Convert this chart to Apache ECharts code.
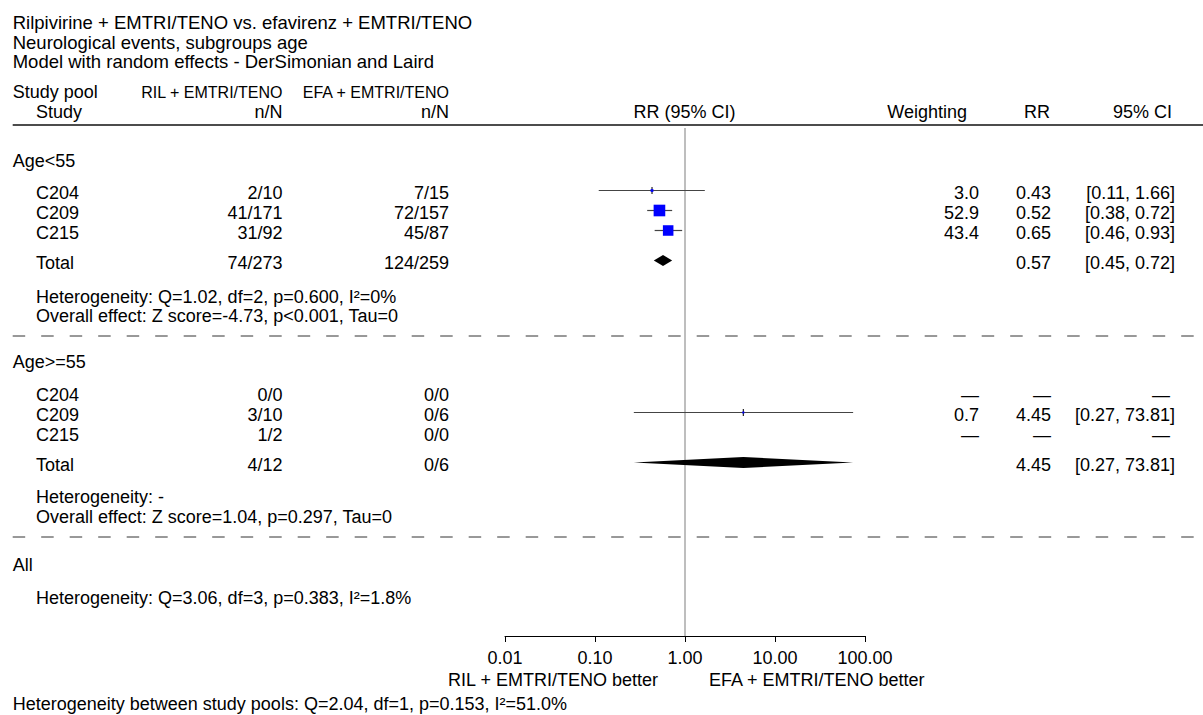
<!DOCTYPE html>
<html>
<head>
<meta charset="utf-8">
<script src="https://cdn.jsdelivr.net/npm/echarts@6/dist/echarts.min.js"></script>
<style>
html,body{margin:0;padding:0;background:#fff;}
#chart{width:1203px;height:715px;}
</style>
</head>
<body>
<div id="chart"></div>
<script>
// ---------------- DATA ----------------
const titleLines = [
  'Rilpivirine + EMTRI/TENO vs. efavirenz + EMTRI/TENO',
  'Neurological events, subgroups age',
  'Model with random effects - DerSimonian and Laird'
];
const headerCols = ['Study pool', 'Study', 'RIL + EMTRI/TENO', 'EFA + EMTRI/TENO', 'n/N', 'RR (95% CI)', 'Weighting', 'RR', '95% CI'];
const subgroupNames = ['Age<55', 'Age>=55'];
const studyNames = ['C204', 'C209', 'C215'];

const rilLt55 = ['2/10', '41/171', '31/92'];
const efaLt55 = ['7/15', '72/157', '45/87'];
const weightLt55 = [3.0, 52.9, 43.4];
const rrLt55 = [0.43, 0.52, 0.65];
const ciLowLt55 = [0.11, 0.38, 0.46];
const ciHighLt55 = [1.66, 0.72, 0.93];
const totalLt55 = ['74/273', '124/259'];
const pooledLt55 = [0.57, 0.45, 0.72];
const hetLt55 = ['Heterogeneity: Q=1.02, df=2, p=0.600, I\u00b2=0%', 'Overall effect: Z score=-4.73, p<0.001, Tau=0'];

const rilGe55 = ['0/0', '3/10', '1/2'];
const efaGe55 = ['0/0', '0/6', '0/0'];
const weightGe55 = [null, 0.7, null];
const rrGe55 = [null, 4.45, null];
const ciLowGe55 = [null, 0.27, null];
const ciHighGe55 = [null, 73.81, null];
const totalGe55 = ['4/12', '0/6'];
const pooledGe55 = [4.45, 0.27, 73.81];
const hetGe55 = ['Heterogeneity: -', 'Overall effect: Z score=1.04, p=0.297, Tau=0'];

const allLabel = 'All';
const hetAll = 'Heterogeneity: Q=3.06, df=3, p=0.383, I\u00b2=1.8%';
const footnote = 'Heterogeneity between study pools: Q=2.04, df=1, p=0.153, I\u00b2=51.0%';
const betterLabels = ['RIL + EMTRI/TENO better', 'EFA + EMTRI/TENO better'];
const tickValues = [0.01, 0.1, 1, 10, 100];
const refValue = 1;

// ---------------- LAYOUT ----------------
const FONT = '"Liberation Sans", Arial, sans-serif';
const F18 = '18px ' + FONT;
const FTITLE = '18.5px ' + FONT;
const F16 = '16px ' + FONT;
const L = {
  titleY: [22, 42, 61], head1: 92, head2: 112, rule: 125,
  groups: [
    { label: 161, studies: [193, 213, 233], total: 263, het: [297, 316], dash: 336 },
    { label: 362, studies: [395, 415, 435], total: 465, het: [497, 517], dash: 537 }
  ],
  all: 565, hetAll: 598, better: 680, foot: 704,
  xGroup: 12.7, xStudy: 36, xRil: 282.5, xEfa: 449,
  xWeight: 979, xRR: 1051, xCI: 1175, xCIDash: 1170,
  axisY: 636, refTop: 128, markerShift: -2.5
};

// ---------------- BUILD ----------------
const g = [];
function txt(s, x, y, align, font) {
  g.push({ type: 'text', x: x, y: y, silent: true,
    style: { text: s, font: font || F18, fill: '#000', align: align || 'left', textAlign: align || 'left',
             verticalAlign: 'middle', textVerticalAlign: 'middle' } });
}
function hline(y, x1, x2, dash, color, w) {
  g.push({ type: 'line', silent: true, shape: { x1: x1, y1: y, x2: x2, y2: y },
    style: { stroke: color, lineWidth: w, lineDash: dash || null } });
}

titleLines.forEach((t, i) => txt(t, L.xGroup, L.titleY[i], 'left', FTITLE));
txt(headerCols[0], L.xGroup, L.head1);
txt(headerCols[1], L.xStudy, L.head2);
txt(headerCols[2], L.xRil, L.head1, 'right', F16);
txt(headerCols[3], L.xEfa, L.head1, 'right', F16);
txt(headerCols[4], L.xRil, L.head2, 'right');
txt(headerCols[4], L.xEfa, L.head2, 'right');
txt(headerCols[5], 684.5, L.head2, 'center');
txt(headerCols[6], 967, L.head2, 'right');
txt(headerCols[7], 1050, L.head2, 'right');
txt(headerCols[8], 1172, L.head2, 'right');
hline(L.rule, L.xGroup, 1203, null, '#111', 1.5);

const groupsData = [
  { ril: rilLt55, efa: efaLt55, w: weightLt55, rr: rrLt55, lo: ciLowLt55, hi: ciHighLt55, tot: totalLt55, pooled: pooledLt55, het: hetLt55 },
  { ril: rilGe55, efa: efaGe55, w: weightGe55, rr: rrGe55, lo: ciLowGe55, hi: ciHighGe55, tot: totalGe55, pooled: pooledGe55, het: hetGe55 }
];
const markData = [];
const ciStr = (a, b) => '[' + a.toFixed(2) + ', ' + b.toFixed(2) + ']';

groupsData.forEach((d, gi) => {
  const lay = L.groups[gi];
  txt(subgroupNames[gi], L.xGroup, lay.label);
  studyNames.forEach((s, i) => {
    const y = lay.studies[i];
    txt(s, L.xStudy, y);
    txt(d.ril[i], L.xRil, y, 'right');
    txt(d.efa[i], L.xEfa, y, 'right');
    if (d.rr[i] == null) {
      txt('\u2014', L.xWeight, y, 'right');
      txt('\u2014', L.xRR, y, 'right');
      txt('\u2014', L.xCIDash, y, 'right');
    } else {
      txt(d.w[i].toFixed(1), L.xWeight, y, 'right');
      txt(d.rr[i].toFixed(2), L.xRR, y, 'right');
      txt(ciStr(d.lo[i], d.hi[i]), L.xCI, y, 'right');
      markData.push([d.rr[i], d.lo[i], d.hi[i], y + L.markerShift, 0, d.w[i]]);
    }
  });
  txt('Total', L.xStudy, lay.total);
  txt(d.tot[0], L.xRil, lay.total, 'right');
  txt(d.tot[1], L.xEfa, lay.total, 'right');
  txt(d.pooled[0].toFixed(2), L.xRR, lay.total, 'right');
  txt(ciStr(d.pooled[1], d.pooled[2]), L.xCI, lay.total, 'right');
  markData.push([d.pooled[0], d.pooled[1], d.pooled[2], lay.total + L.markerShift, 1, 0]);
  txt(d.het[0], L.xStudy, lay.het[0]);
  txt(d.het[1], L.xStudy, lay.het[1]);
  hline(lay.dash, L.xGroup, 1203, [12.5, 16], '#333', 1);
});
txt(allLabel, L.xGroup, L.all);
txt(hetAll, L.xStudy, L.hetAll);
txt(betterLabels[0], 658, L.better, 'right');
txt(betterLabels[1], 709, L.better, 'left');
txt(footnote, L.xGroup, L.foot);

const chart = echarts.init(document.getElementById('chart'), null, { renderer: 'svg' });
chart.setOption({
  animation: false,
  backgroundColor: '#fff',
  grid: { left: 505, right: 1203 - 865, top: 0, bottom: 715 - L.axisY },
  xAxis: {
    type: 'log', logBase: 10, min: tickValues[0], max: tickValues[tickValues.length - 1],
    position: 'bottom',
    axisLine: { show: true, onZero: false, lineStyle: { color: '#000', width: 1 } },
    axisTick: { show: true, inside: false, length: 6, lineStyle: { color: '#000' } },
    axisLabel: { show: true, margin: 13, color: '#000', fontSize: 18, fontFamily: FONT,
      formatter: v => Number(v).toFixed(2) },
    splitLine: { show: false }
  },
  yAxis: { type: 'value', min: 0, max: L.axisY, inverse: true, show: false },
  series: [
    {
      type: 'line', symbol: 'none', silent: true,
      data: [[refValue, L.refTop], [refValue, L.axisY]],
      lineStyle: { color: '#a8a8a8', width: 1.5 }, z: 1
    },
    {
      type: 'custom', silent: true, z: 3,
      data: markData,
      encode: { x: [0, 1, 2], y: 3 },
      renderItem: function (params, api) {
        const rr = api.value(0), lo = api.value(1), hi = api.value(2), y = api.value(3);
        const kind = api.value(4), w = api.value(5);
        const pC = api.coord([rr, y]), pL = api.coord([lo, y]), pR = api.coord([hi, y]);
        if (kind === 1) {
          const h = 5.5;
          return { type: 'polygon',
            shape: { points: [[pL[0], pC[1]], [pC[0], pC[1] - h], [pR[0], pC[1]], [pC[0], pC[1] + h]] },
            style: { fill: '#000' } };
        }
        const s = Math.max(2, 1.6 * Math.sqrt(w));
        return { type: 'group', children: [
          { type: 'line', shape: { x1: pL[0], y1: pC[1], x2: pR[0], y2: pC[1] }, style: { stroke: '#444', lineWidth: 1.2 } },
          { type: 'line', shape: { x1: pC[0], y1: pC[1] - 3.5, x2: pC[0], y2: pC[1] + 3.5 }, style: { stroke: '#222', lineWidth: 1.2 } },
          { type: 'rect', shape: { x: pC[0] - s / 2, y: pC[1] - s / 2, width: s, height: s }, style: { fill: '#0000ff' } }
        ] };
      }
    }
  ],
  graphic: { elements: g }
});
</script>
</body>
</html>
